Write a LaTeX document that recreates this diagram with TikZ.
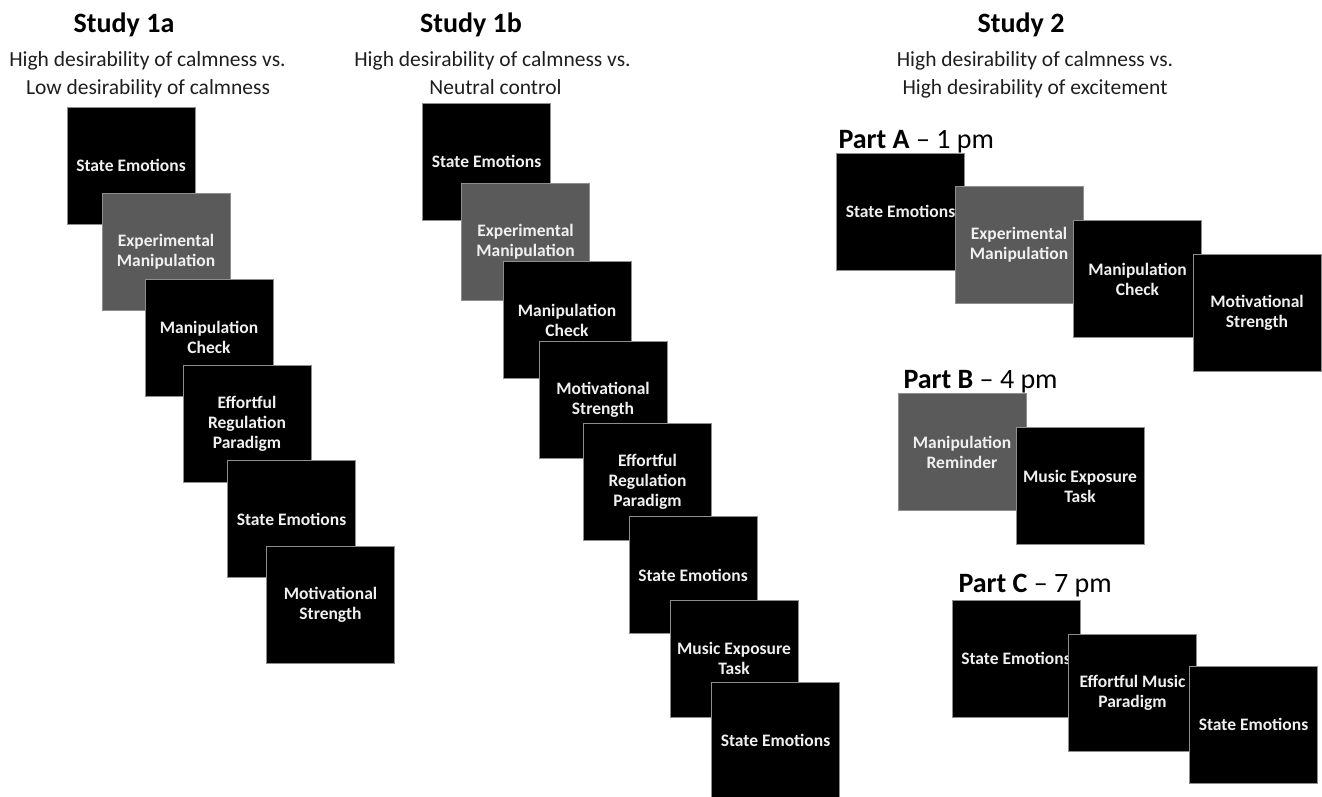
\documentclass[tikz,border=0pt]{standalone}
\usepackage{fontspec}
\setmainfont{Carlito}
\definecolor{manipgray}{HTML}{5A5A5A}
\definecolor{edgegray}{HTML}{8E8E8E}
\definecolor{boxtext}{HTML}{F0F0F0}
\definecolor{subtext}{HTML}{1E1E1E}
\begin{document}
\begin{tikzpicture}[x=1pt, y=-1pt,
            blk/.style={rectangle, fill=black, draw=edgegray, line width=0.9pt, minimum width=128pt,
            minimum height=117pt, inner sep=0pt, align=center, text=boxtext,
            font=\fontsize{17.5}{20}\selectfont\bfseries},
            gblk/.style={blk, fill=manipgray},
            ttl/.style={anchor=base, font=\fontsize{28}{32}\selectfont\bfseries},
            sub/.style={anchor=base, text=subtext, font=\fontsize{21.5}{26}\selectfont},
            prt/.style={anchor=base west, font=\fontsize{28}{32}\selectfont}]
            \useasboundingbox (0,0) rectangle (1322,796);

            \node[ttl] (t1a) at (124,32) {Study 1a};
            \node[sub] (s1a1) at (147.5,66) {High desirability of calmness vs.};
            \node[sub] (s1a2) at (148,94) {Low desirability of calmness};

            \node[blk] (a1) at (131,165.5) {State Emotions};
            \node[gblk] (a2) at (166,251.5) {Experimental\\Manipulation};
            \node[blk] (a3) at (209,337.5) {Manipulation\\Check};
            \node[blk] (a4) at (247,423.5) {Effortful\\Regulation\\Paradigm};
            \node[blk] (a5) at (291.5,519) {State Emotions};
            \node[blk] (a6) at (330.5,605) {Motivational\\Strength};

            \node[ttl] (t1b) at (471,32) {Study 1b};
            \node[sub] (s1b1) at (492.5,66) {High desirability of calmness vs.};
            \node[sub] (s1b2) at (495.5,94) {Neutral control};

            \node[blk] (b1) at (486.5,161.5) {State Emotions};
            \node[gblk] (b2) at (525.5,242) {Experimental\\Manipulation};
            \node[blk] (b3) at (567,320) {Manipulation\\Check};
            \node[blk] (b4) at (603,400) {Motivational\\Strength};
            \node[blk] (b5) at (647.5,481.5) {Effortful\\Regulation\\Paradigm};
            \node[blk] (b6) at (693,575) {State Emotions};
            \node[blk] (b7) at (734,658.5) {Music Exposure\\Task};
            \node[blk] (b8) at (775.5,740.5) {State Emotions};

            \node[ttl] (t2) at (1021,32) {Study 2};
            \node[sub] (s21) at (1035,66) {High desirability of calmness vs.};
            \node[sub] (s22) at (1035,94) {High desirability of excitement};

            \node[prt] (pa) at (835,148) {\textbf{Part A} -- 1 pm};
            \node[blk] (pa1) at (900.5,211.5) {State Emotions};
            \node[gblk] (pa2) at (1019,245) {Experimental\\Manipulation};
            \node[blk] (pa3) at (1137.5,279) {Manipulation\\Check};
            \node[blk] (pa4) at (1257,312.5) {Motivational\\Strength};

            \node[prt] (pb) at (900,388) {\textbf{Part B} -- 4 pm};
            \node[gblk] (pb1) at (962,452) {Manipulation\\Reminder};
            \node[blk] (pb2) at (1080,486) {Music Exposure\\Task};

            \node[prt] (pc) at (955,592) {\textbf{Part C} -- 7 pm};
            \node[blk] (pc1) at (1016,658.5) {State Emotions};
            \node[blk] (pc2) at (1132.5,692.5) {Effortful Music\\Paradigm};
            \node[blk] (pc3) at (1253.5,724.5) {State Emotions};
        \end{tikzpicture}
\end{document}
